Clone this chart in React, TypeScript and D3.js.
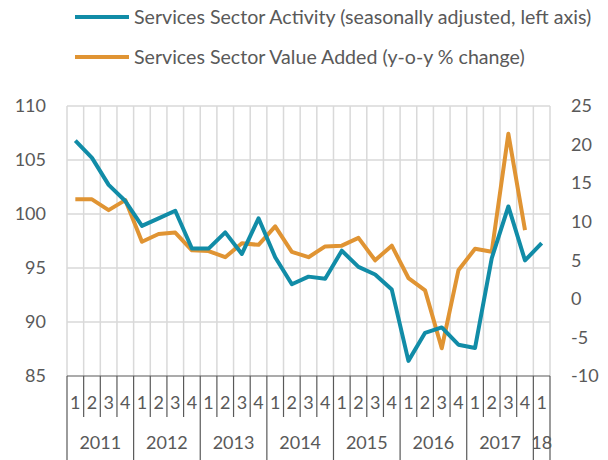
import React from "react";
import * as d3 from "d3";

const years = ["2011", "2012", "2013", "2014", "2015", "2016", "2017", "18"];
const quarterLabels = ["1", "2", "3", "4"];
const periods: string[] = [];
for (let y = 2011; y <= 2017; y++) for (let q = 1; q <= 4; q++) periods.push(`${y}Q${q}`);
periods.push("2018Q1");

const activity = [
  106.8, 105.2, 102.7, 101.2,
  98.9, 99.6, 100.3, 96.8,
  96.8, 98.3, 96.3, 99.6,
  96.0, 93.5, 94.2, 94.0,
  96.6, 95.1, 94.4, 93.0,
  86.4, 89.0, 89.5, 87.9,
  87.6, 95.9, 100.7, 95.7,
  97.3,
];
const valueAdded = [
  12.9, 12.9, 11.5, 12.8,
  7.4, 8.4, 8.6, 6.3,
  6.2, 5.4, 7.2, 7.0,
  9.4, 6.1, 5.4, 6.8,
  6.9, 7.9, 5.0, 6.9,
  2.7, 1.1, -6.4, 3.7,
  6.5, 6.1, 21.4, 8.9,
];
const leftTicks = [85, 90, 95, 100, 105, 110];
const rightTicks = [-10, -5, 0, 5, 10, 15, 20, 25];
const seriesNames = [
  "Services Sector Activity (seasonally adjusted, left axis)",
  "Services Sector Value Added (y-o-y % change)",
];

const BLUE = "#118ca7";
const ORANGE = "#e09433";
const TEXT = "#595959";
const GRID = "#d9d9d9";
const FONT = "Lato, 'Open Sans', sans-serif";

export default function App() {
  const W = 608, H = 460;
  const left = 67, right = 550, top = 106, bottom = 376;
  const x = d3.scaleBand<string>().domain(periods).range([left, right]).padding(0);
  const yL = d3.scaleLinear().domain([85, 110]).range([bottom, top]);
  const yR = d3.scaleLinear().domain([-10, 25]).range([bottom, top]);
  const cx = (p: string) => (x(p) as number) + x.bandwidth() / 2;

  const lineL = d3.line<number>().x((_, i) => cx(periods[i])).y((d) => yL(d));
  const lineR = d3.line<number>().x((_, i) => cx(periods[i])).y((d) => yR(d));

  const bw = x.bandwidth();
  return (
    <svg width={W} height={H} style={{ position: "absolute", left: 0, top: 0, background: "#fff" }} fontFamily={FONT}>
      {/* legend */}
      <line x1={75} x2={129} y1={17} y2={17} stroke={BLUE} strokeWidth={4} />
      <text x={134} y={17} dy="0.35em" fontSize={19.6} fill={TEXT}>{seriesNames[0]}</text>
      <line x1={75} x2={129} y1={57} y2={57} stroke={ORANGE} strokeWidth={4} />
      <text x={134} y={57} dy="0.35em" fontSize={19.6} fill={TEXT}>{seriesNames[1]}</text>

      {/* horizontal gridlines */}
      {leftTicks.slice(1).map((t) => (
        <line key={t} x1={left} x2={right} y1={yL(t)} y2={yL(t)} stroke={GRID} strokeWidth={1.5} />
      ))}
      {/* vertical gridlines */}
      {periods.map((p) => (
        <line key={p} x1={(x(p) as number)} x2={(x(p) as number)} y1={top} y2={bottom} stroke={GRID} strokeWidth={1.5} />
      ))}
      <line x1={right} x2={right} y1={top} y2={bottom} stroke={GRID} strokeWidth={1.5} />

      {/* left axis labels */}
      {leftTicks.map((t) => (
        <text key={t} x={46} y={yL(t)} dy="0.35em" textAnchor="end" fontSize={18} fill={TEXT}>{t}</text>
      ))}
      {/* right axis labels */}
      {rightTicks.map((t) => (
        <text key={t} x={571} y={yR(t)} dy="0.35em" textAnchor="start" fontSize={18} fill={TEXT}>{t}</text>
      ))}

      {/* x axis */}
      <line x1={left} x2={right} y1={bottom} y2={bottom} stroke={TEXT} strokeWidth={1.2} />
      {periods.map((p, i) => {
        const xx = x(p) as number;
        const isYear = i % 4 === 0;
        return (
          <line key={"t" + p} x1={xx} x2={xx} y1={bottom} y2={isYear ? H : 417} stroke={TEXT} strokeWidth={1.2} />
        );
      })}
      <line x1={right} x2={right} y1={bottom} y2={H} stroke={TEXT} strokeWidth={1.2} />
      {periods.map((p, i) => (
        <text key={"q" + p} x={cx(p)} y={403} dy="0.35em" textAnchor="middle" fontSize={18} fill={TEXT}>
          {quarterLabels[i % 4]}
        </text>
      ))}
      {years.map((yr, k) => {
        const start = left + k * 4 * bw;
        const n = Math.min(4, periods.length - k * 4);
        return (
          <text key={yr} x={start + (n * bw) / 2} y={443} dy="0.35em" textAnchor="middle" fontSize={18} fill={TEXT}>
            {yr}
          </text>
        );
      })}

      {/* series */}
      <path d={lineR(valueAdded) as string} fill="none" stroke={ORANGE} strokeWidth={4} strokeLinejoin="round" />
      <path d={lineL(activity) as string} fill="none" stroke={BLUE} strokeWidth={4} strokeLinejoin="round" />
    </svg>
  );
}
